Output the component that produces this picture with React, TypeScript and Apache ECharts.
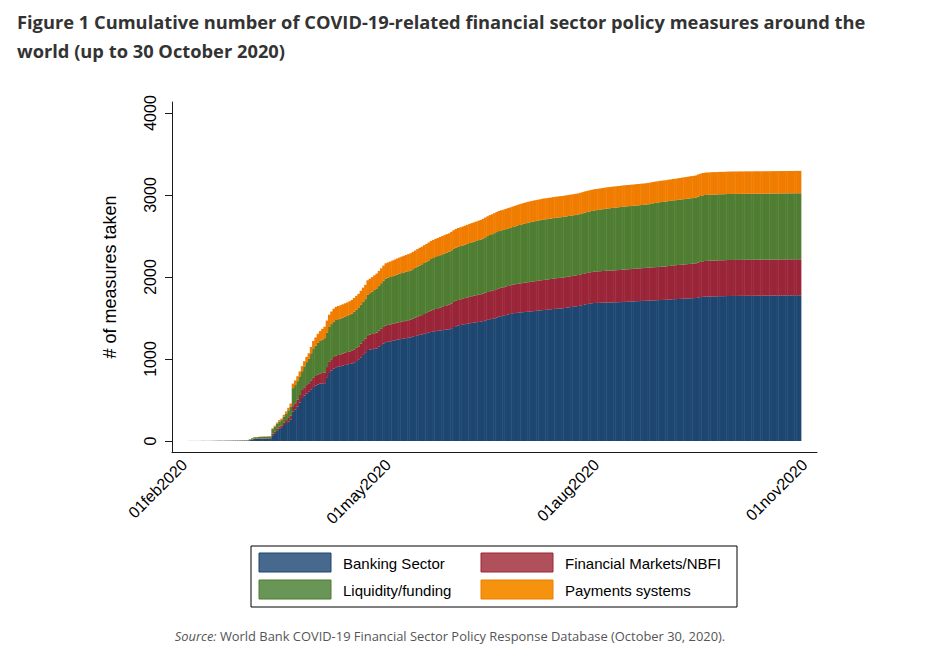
import React, { useEffect, useRef } from "react";
import * as echarts from "echarts";

// ---------- data ----------
const FIRST_CATEGORY = Date.UTC(2020, 0, 27); // axis starts a few days before 01feb2020
const CATEGORY_COUNT = 285; // 27 Jan 2020 .. 6 Nov 2020
const DATA_OFFSET = 5; // first observation: 01feb2020
const TICK_LABELS = ["01feb2020", "01may2020", "01aug2020", "01nov2020"];
const Y_TICKS = [0, 1000, 2000, 3000, 4000];
const SERIES_NAMES = ["Banking Sector", "Financial Markets/NBFI", "Liquidity/funding", "Payments systems"];

// daily cumulative counts, 01feb2020 .. 30oct2020 (one row per month)
const banking = [
  0,0,1,1,1,1,1,1,1,1,1,1,1,2,2,2,2,2,2,2,2,3,3,3,3,4,4,4,5,
  10,18,25,26,27,28,28,28,29,30,70,95,125,150,160,195,220,240,262,360,385,420,470,525,555,580,600,630,660,675,690,
  700,703,705,770,830,860,885,900,906,912,920,928,935,940,945,960,975,990,1020,1050,1075,1110,1115,1120,1125,1130,1150,1170,1190,1205,
  1210,1215,1222,1228,1235,1240,1245,1250,1255,1260,1265,1272,1280,1288,1295,1300,1308,1315,1322,1330,1335,1340,1344,1348,1352,1356,1360,1362,1375,1390,1400,
  1408,1415,1420,1425,1430,1435,1440,1444,1448,1452,1455,1462,1470,1478,1485,1490,1496,1506,1516,1522,1528,1535,1542,1550,1557,1560,1563,1566,1569,1572,
  1575,1577,1580,1583,1586,1589,1592,1595,1598,1600,1603,1606,1609,1612,1614,1616,1618,1622,1626,1630,1634,1638,1642,1646,1652,1658,1664,1670,1675,1679,1683,
  1684,1685,1686,1687,1688,1689,1689,1690,1691,1692,1693,1694,1696,1697,1699,1700,1702,1703,1705,1706,1708,1709,1711,1712,1713,1715,1716,1717,1719,1720,1721,
  1723,1725,1727,1729,1730,1732,1733,1735,1736,1738,1739,1741,1742,1744,1750,1755,1758,1760,1761,1762,1763,1764,1764,1765,1766,1766,1767,1768,1768,1769,
  1769,1769,1770,1770,1770,1771,1771,1771,1771,1772,1772,1772,1772,1772,1773,1773,1773,1774,1774,1774,1775,1775,1775,1776,1776,1776,1776,1777,1777,1777,
];

const markets = [
  0,0,0,0,0,0,0,0,0,0,0,0,0,0,0,1,1,1,1,1,1,1,1,1,1,1,1,1,1,
  2,3,4,4,4,5,5,5,5,5,20,22,25,27,30,32,35,40,45,65,75,85,92,98,100,102,105,110,115,118,122,
  125,127,130,132,135,137,139,141,143,145,147,149,150,152,155,158,161,164,167,170,173,180,183,186,189,192,195,198,201,205,
  206,207,207,208,208,209,210,211,212,213,215,219,223,227,231,235,241,247,253,260,265,270,275,280,285,290,295,300,303,306,310,
  312,313,315,318,320,323,325,328,330,333,335,336,338,339,341,342,344,345,346,347,347,348,349,349,350,351,353,354,355,357,
  358,360,361,362,363,364,365,366,367,368,369,370,371,372,373,374,375,375,376,376,377,377,378,378,379,379,380,380,381,381,382,
  383,384,385,386,387,388,388,389,390,391,392,393,394,395,395,396,397,397,398,399,399,400,401,401,402,403,404,404,405,405,406,
  407,409,410,412,413,414,415,416,417,418,419,420,422,423,427,430,433,435,436,436,437,437,437,438,438,438,438,439,439,439,
  439,439,439,439,439,439,439,439,439,439,439,439,439,439,439,439,439,439,439,439,439,439,439,439,439,439,439,439,439,439,
];

const liquidity = [
  0,0,0,0,0,0,0,0,1,1,1,1,1,1,1,1,1,1,2,2,2,2,2,2,2,3,3,3,3,
  8,12,16,17,18,18,19,19,19,20,55,58,60,62,65,72,80,95,115,220,222,225,226,228,255,280,300,330,355,370,385,
  395,408,419,422,425,429,432,435,436,436,437,438,440,446,453,459,465,470,474,478,482,495,505,516,528,540,548,556,564,572,
  575,578,581,584,587,590,593,595,597,598,600,604,608,612,616,620,623,625,628,630,632,634,636,638,640,642,644,646,647,647,648,
  649,649,650,652,654,656,658,660,662,665,667,672,677,682,686,690,695,697,698,699,699,700,701,701,702,706,710,714,717,720,
  723,726,728,730,732,733,734,736,737,737,737,737,738,738,738,738,738,738,738,738,738,738,738,738,739,740,741,742,743,745,746,
  748,750,752,754,757,759,761,763,764,765,766,767,768,768,769,769,769,770,770,770,771,771,771,774,777,780,783,785,788,790,791,
  791,792,792,793,793,794,795,796,797,798,799,800,800,801,802,803,804,805,805,805,805,805,805,805,805,805,805,805,805,805,
  805,805,805,805,805,805,805,805,805,805,805,805,805,805,805,805,805,805,805,805,805,805,805,805,805,805,805,805,805,805,
];

const payments = [
  0,0,0,0,0,0,0,0,0,0,0,0,0,0,0,0,0,0,0,0,0,1,1,1,1,1,1,1,1,
  2,2,3,3,3,3,4,4,4,4,10,12,15,16,18,22,25,30,35,55,57,60,61,62,63,64,65,78,90,100,110,
  120,130,140,145,150,153,157,160,161,162,163,164,165,166,167,168,169,170,171,172,174,175,176,177,179,180,181,182,184,185,
  187,189,191,193,195,198,200,203,205,208,210,211,212,213,214,215,216,217,218,220,220,221,221,222,222,223,224,225,226,227,228,
  229,229,230,231,232,233,234,235,236,237,238,239,240,241,242,243,244,244,245,246,246,247,248,248,249,250,251,252,253,253,
  254,255,255,255,255,255,255,256,256,256,256,256,256,256,256,257,257,257,257,257,257,257,257,257,257,258,258,258,258,258,258,
  258,258,258,258,258,258,259,259,259,259,259,259,259,259,259,259,259,259,260,260,260,260,260,260,260,260,260,260,260,260,260,
  260,261,261,262,262,263,264,265,266,267,268,269,269,270,271,271,272,272,272,272,273,273,273,273,273,273,273,273,273,273,
  273,273,273,273,273,273,273,273,273,273,273,273,273,273,273,273,273,273,273,273,273,273,273,273,273,273,273,273,273,273,
];

const SERIES_VALUES = [banking, markets, liquidity, payments];
const BAR_COLORS = ["#1d4670", "#9a2438", "#4f7d32", "#f07c00"];
const KEY_COLORS = ["#46698d", "#b0505a", "#699656", "#f5930f"];

// ---------- helpers ----------
const MONTHS = ["jan","feb","mar","apr","may","jun","jul","aug","sep","oct","nov","dec"];
function stataDate(ms: number): string {
  const d = new Date(ms);
  const dd = String(d.getUTCDate()).padStart(2, "0");
  return dd + MONTHS[d.getUTCMonth()] + d.getUTCFullYear();
}
const categories: string[] = [];
for (let i = 0; i < CATEGORY_COUNT; i++) categories.push(stataDate(FIRST_CATEGORY + i * 86400000));

const FONT = "'Liberation Sans', Arial, Helvetica, sans-serif";
const AXIS_COLOR = "#1a1a1a";
const isTick = (_i: number, v: string) => TICK_LABELS.indexOf(v) >= 0;

function buildOption(): any {
  const series = SERIES_NAMES.map((name, s) => {
    const padded: any[] = [];
    for (let i = 0; i < DATA_OFFSET; i++) padded.push("-");
    SERIES_VALUES[s].forEach((v) => padded.push(v));
    return {
      name,
      type: "bar",
      stack: "total",
      barWidth: 2.7,
      data: padded,
      itemStyle: { color: BAR_COLORS[s] },
      silent: true,
    };
  });

  const keyX = [259, 481];
  const keyY = [553, 580];
  const legendEls: any[] = [
    { type: "rect", shape: { x: 251, y: 546, width: 486, height: 61 }, style: { fill: "#fff", stroke: "#000", lineWidth: 1 } },
  ];
  SERIES_NAMES.forEach((name, i) => {
    const col = i % 2;
    const row = Math.floor(i / 2);
    legendEls.push({
      type: "rect",
      shape: { x: keyX[col], y: keyY[row], width: 72, height: 19 },
      style: { fill: KEY_COLORS[i], stroke: BAR_COLORS[i], lineWidth: 1 },
    });
    legendEls.push({
      type: "text",
      x: keyX[col] + 84,
      y: keyY[row] + 10,
      style: { text: name, fontFamily: FONT, fontSize: 15, fill: "#000", verticalAlign: "middle", textAlign: "left" },
    });
  });

  return {
    animation: false,
    backgroundColor: "#fff",
    title: {
      text: "Figure 1 Cumulative number of COVID-19-related financial sector policy measures around the\nworld (up to 30 October 2020)",
      left: 12,
      top: 2,
      textStyle: { fontFamily: "'Open Sans', sans-serif", fontWeight: 700, fontSize: 18.3, color: "#333", lineHeight: 29 },
    },
    grid: { left: 172, right: 131, top: 102, bottom: 205, containLabel: false },
    xAxis: {
      type: "category",
      data: categories,
      boundaryGap: true,
      axisLine: { onZero: false, lineStyle: { color: AXIS_COLOR, width: 1 } },
      axisTick: { alignWithLabel: true, interval: isTick, length: 7, lineStyle: { color: AXIS_COLOR, width: 1 } },
      axisLabel: { interval: isTick, rotate: 45, margin: 10, fontSize: 16, fontFamily: FONT, color: "#000" },
      splitLine: { show: false },
    },
    yAxis: {
      type: "value",
      min: -134,
      max: 4134,
      name: "# of measures taken",
      nameLocation: "middle",
      nameRotate: 90,
      nameGap: 53,
      nameTextStyle: { fontFamily: FONT, fontSize: 18, color: "#000" },
      axisLine: { show: true, lineStyle: { color: AXIS_COLOR, width: 1 } },
      axisTick: { show: true, length: 7, customValues: Y_TICKS, lineStyle: { color: AXIS_COLOR, width: 1 } },
      axisLabel: {
        customValues: Y_TICKS,
        rotate: 90,
        margin: 14,
        fontSize: 16,
        fontFamily: FONT,
        color: "#000",
        formatter: (v: number) => String(Math.round(v)),
      },
      splitLine: { show: false },
    },
    series,
    graphic: [
      ...legendEls,
      {
        type: "text",
        x: 450,
        y: 636,
        style: {
          text: "{i|Source:} World Bank COVID-19 Financial Sector Policy Response Database (October 30, 2020).",
          fontFamily: "'Open Sans', sans-serif",
          fontSize: 12.9,
          fill: "#555",
          textAlign: "center",
          verticalAlign: "middle",
          rich: { i: { fontStyle: "italic", fontFamily: "'Open Sans', sans-serif", fontSize: 12.9, fill: "#555" } },
        },
      },
    ],
  };
}

export default function App() {
  const ref = useRef<HTMLDivElement>(null);
  useEffect(() => {
    if (!ref.current) return;
    const chart = echarts.init(ref.current, undefined, { renderer: "svg" });
    chart.setOption(buildOption());
    return () => chart.dispose();
  }, []);
  return <div ref={ref} style={{ position: "absolute", left: 0, top: 0, width: 948, height: 657, background: "#fff" }} />;
}
